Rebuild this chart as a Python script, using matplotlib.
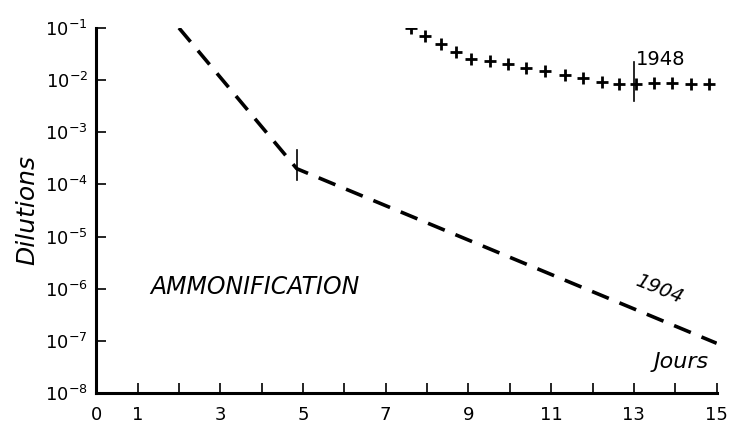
import numpy as np
import matplotlib.pyplot as plt

# 1904 curve (dashed), break point marked by a vertical tick
days_1904 = [2.0, 4.85, 15.0]
dil_1904 = [1.0e-1, 2.0e-4, 9.0e-8]

# 1948 curve ('+' markers)
days_1948 = [7.62, 7.94, 8.33, 8.71, 9.05, 9.51, 9.95, 10.40, 10.86,
             11.33, 11.76, 12.22, 12.65, 13.05, 13.48, 13.93, 14.37, 14.82]
dil_1948 = [0.100, 0.071, 0.049, 0.034, 0.025, 0.023, 0.020, 0.017, 0.0148,
            0.0126, 0.011, 0.0092, 0.0084, 0.0084, 0.0087, 0.0087, 0.0084, 0.0084]

x_ticks = list(range(0, 16))
x_labels = ["0", "1", "", "3", "", "5", "", "7", "", "9", "", "11", "", "13", "", "15"]
y_exps = list(range(-8, 0))  # 10^-8 ... 10^-1

plt.rcParams["font.family"] = ["DejaVu Sans"]

fig = plt.figure(figsize=(7.29, 4.30), dpi=100)
ax = fig.add_axes([0.132, 0.086, 0.851, 0.849])

ax.plot(days_1904, dil_1904, color="black", lw=2.6, linestyle=(0, (5, 3.2)))
ax.plot(days_1948, dil_1948, linestyle="none", marker="+", color="black",
        markersize=8, markeredgewidth=2.0)

# vertical marks
ax.plot([4.85, 4.85], [4.5e-4, 1.2e-4], color="black", lw=1.2)
ax.plot([13.0, 13.0], [2.2e-2, 4.0e-3], color="black", lw=1.2)

ax.set_yscale("log")
ax.set_xlim(0, 15)
ax.set_ylim(1e-8, 1e-1)
ax.set_xticks(x_ticks)
ax.set_xticklabels(x_labels)
ax.set_yticks([10.0 ** e for e in y_exps])
ax.set_yticklabels([r"$\mathregular{10^{%d}}$" % e for e in y_exps])
ax.yaxis.set_minor_locator(plt.NullLocator())

ax.tick_params(direction="in", length=7, width=1.2, labelsize=13, pad=6)
ax.tick_params(axis="x", pad=9)
for s in ["top", "right"]:
    ax.spines[s].set_visible(False)
for s in ["left", "bottom"]:
    ax.spines[s].set_linewidth(2.2)

ax.set_ylabel("Dilutions", fontsize=18, style="italic", labelpad=4)

ax.text(13.05, 1.6e-2, "1948", fontsize=14, ha="left", va="bottom")
ax.text(13.6, 1.0e-6, "1904", fontsize=14, style="italic", rotation=-22,
        ha="center", va="center")
ax.text(14.8, 6e-8, "Jours", fontsize=16, style="italic", ha="right", va="top")
ax.text(1.3, 1.1e-6, "AMMONIFICATION", fontsize=17, style="italic",
        ha="left", va="center")

fig.savefig("out.png", dpi=100)
